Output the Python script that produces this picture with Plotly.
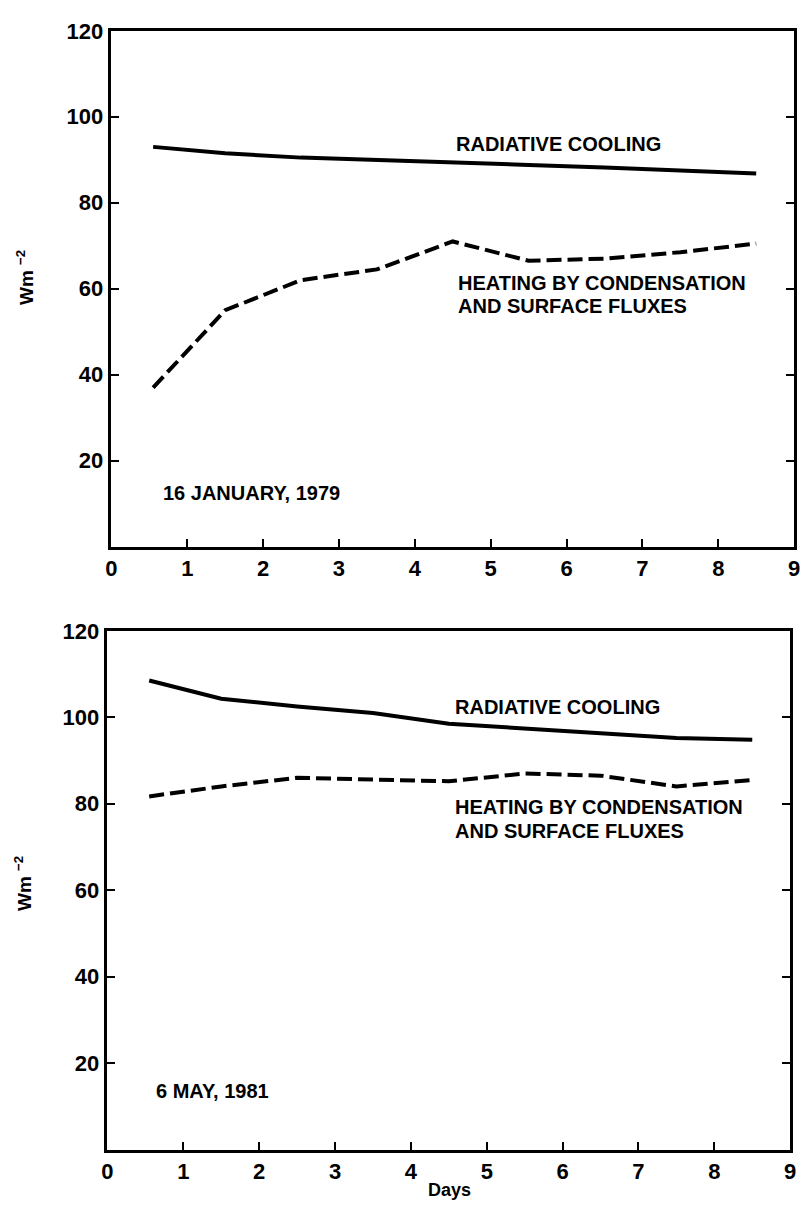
import plotly.graph_objects as go

# ---- data ----
days = [0.55, 1.5, 2.5, 3.5, 4.5, 5.5, 6.5, 7.5, 8.5]

jan_radiative = [93.0, 91.5, 90.5, 90.0, 89.5, 88.8, 88.2, 87.5, 86.8]
jan_heating = [37.0, 55.0, 62.0, 64.5, 71.0, 66.5, 67.0, 68.5, 70.5]

may_radiative = [108.5, 104.3, 102.5, 101.0, 98.5, 97.5, 96.3, 95.2, 94.8]
may_heating = [81.7, 84.0, 86.0, 85.5, 85.2, 87.0, 86.5, 84.0, 85.5]

x_ticks = [0, 1, 2, 3, 4, 5, 6, 7, 8, 9]
y_ticks = [20, 40, 60, 80, 100, 120]

label_cool = "RADIATIVE COOLING"
label_heat1 = "HEATING BY CONDENSATION"
label_heat2 = "AND SURFACE FLUXES"
date_top = "16 JANUARY, 1979"
date_bot = "6 MAY, 1981"

W, H = 809, 1212
FONT = "Liberation Sans, Arial, sans-serif"

fig = go.Figure()

solid = dict(color="black", width=4)
dashed = dict(color="black", width=4, dash="15px,6px")

fig.add_trace(go.Scatter(x=days, y=jan_radiative, mode="lines", line=solid, xaxis="x", yaxis="y"))
fig.add_trace(go.Scatter(x=days, y=jan_heating, mode="lines", line=dashed, xaxis="x", yaxis="y"))
fig.add_trace(go.Scatter(x=days, y=may_radiative, mode="lines", line=solid, xaxis="x2", yaxis="y2"))
fig.add_trace(go.Scatter(x=days, y=may_heating, mode="lines", line=dashed, xaxis="x2", yaxis="y2"))

tickfont = dict(family=FONT, size=22, color="black", weight="bold")

def xax(domain, anchor):
    return dict(domain=domain, anchor=anchor, range=[0, 9], tickvals=x_ticks,
                ticktext=[str(v) for v in x_ticks], ticks="inside", ticklen=8,
                tickwidth=2, tickcolor="black", showline=True, linecolor="black",
                linewidth=2.5, mirror=True, showgrid=False, zeroline=False,
                tickfont=tickfont, ticklabelstandoff=0)

def yax(domain, anchor):
    return dict(domain=domain, anchor=anchor, range=[0, 120], tickvals=y_ticks,
                ticks="inside", ticklen=8, tickwidth=2, tickcolor="black",
                showline=True, linecolor="black", linewidth=2.5, mirror="ticks",
                showgrid=False, zeroline=False, tickfont=tickfont,
                ticklabelstandoff=1)

fig.update_layout(
    width=W, height=H,
    margin=dict(l=0, r=0, t=0, b=0),
    paper_bgcolor="white", plot_bgcolor="white",
    showlegend=False,
    xaxis=xax([107 / W, 800 / W], "y"),
    yaxis=yax([1 - 540 / H, 1 - 19 / H], "x"),
    xaxis2=xax([103 / W, 796 / W], "y2"),
    yaxis2=yax([1 - 1149 / H, 1 - 625 / H], "x2"),
)

afont = dict(family=FONT, size=20, color="black", weight="bold")

def ann(text, x, y, xref, yref):
    return dict(text=text, x=x, y=y, xref=xref, yref=yref, showarrow=False,
                xanchor="left", yanchor="middle", font=afont)

ytitle = "Wm <sup>−2</sup>"
annotations = [
    ann(label_cool, 4.52, 93.6, "x", "y"),
    ann(label_heat1, 4.54, 61.4, "x", "y"),
    ann(label_heat2, 4.54, 56.1, "x", "y"),
    ann(date_top, 0.65, 12.5, "x", "y"),
    ann(label_cool, 4.56, 102.3, "x2", "y2"),
    ann(label_heat1, 4.55, 79.2, "x2", "y2"),
    ann(label_heat2, 4.55, 73.7, "x2", "y2"),
    ann(date_bot, 0.61, 13.5, "x2", "y2"),
    dict(text=ytitle, x=20 / W, y=1 - 268 / H, xref="paper", yref="paper",
         showarrow=False, textangle=-90, xanchor="center", yanchor="middle",
         font=dict(family=FONT, size=19, color="black", weight="bold")),
    dict(text=ytitle, x=18 / W, y=1 - 880 / H, xref="paper", yref="paper",
         showarrow=False, textangle=-90, xanchor="center", yanchor="middle",
         font=dict(family=FONT, size=19, color="black", weight="bold")),
    dict(text="Days", x=450 / W, y=1 - 1190 / H, xref="paper", yref="paper",
         showarrow=False, xanchor="center", yanchor="middle",
         font=dict(family=FONT, size=18, color="black", weight="bold")),
]
fig.update_layout(annotations=annotations)

fig.write_html("out.html")
